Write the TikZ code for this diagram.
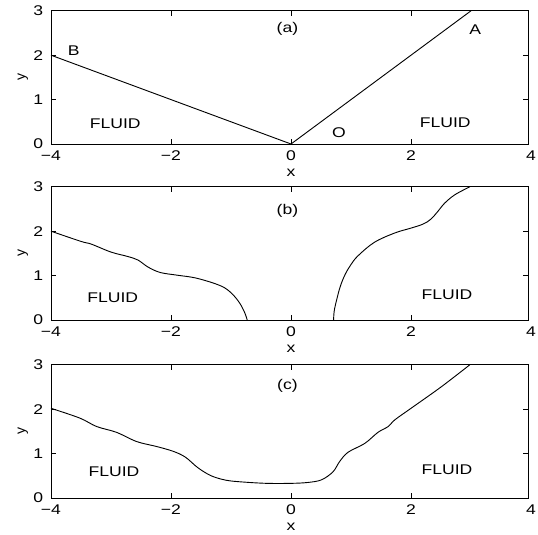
\documentclass[tikz,border=0pt]{standalone}
\usepackage{fontspec}
\setmainfont{Liberation Sans}
\usetikzlibrary{positioning}

\begin{document}
\begin{tikzpicture}[
    font=\fontsize{10}{12}\selectfont,
    x=15mm, y=11.1mm,
    frame/.style={line width=0.5pt},
    tick/.style={line width=0.4pt},
    curve/.style={line width=0.65pt, line join=round},
    txt/.style={inner sep=0.5pt, xscale=1.25},
  ]
  \useasboundingbox (0,0) rectangle (134.5mm,133.5mm);

  % axes of the three panels
  \foreach \oy/\tag/\ty in {97.5/a/2.6, 53.5/b/2.46, 9/c/2.53} {
    \begin{scope}[shift={(72.75mm,\oy mm)}]
      \draw[frame] (-4,0) rectangle (3.95,3);
      \foreach \t in {-2,0,2} {
        \draw[tick] (\t,0) -- ++(0,1.2mm);
        \draw[tick] (\t,3) -- ++(0,-1.2mm);
      }
      \foreach \t in {1,2} {
        \draw[tick] (-4,\t) -- ++(1.2mm,0);
        \draw[tick] (3.95,\t) -- ++(-1.2mm,0);
      }
      \foreach \t/\s [count=\i] in {-4/−4, -2/−2, 0/0, 2/2, 4/4}
        \node[txt, anchor=north, yshift=-1.5mm] (xt\tag\i) at (\t,0) {\s};
      \foreach \t in {0,...,3}
        \node[txt, anchor=east, xshift=-1.3mm] (yt\tag\t) at (-4,\t) {\t};
      \node[txt] (xl\tag) at (0,-0.65) {x};
      \node[inner sep=0.5pt, rotate=90] (yl\tag) at (-4.47,1.5) {y};
      \node[txt] (pt\tag) at (-0.06,\ty) {(\tag)};
    \end{scope}
  }

  % (a) initial wedge
  \begin{scope}[shift={(72.75mm,97.5mm)}]
    \draw[curve] (-4,2) -- (0,0) -- (3,3);
    \node[txt] (B) at (-3.62,2.1) {B};
    \node[txt] (A) at (3.07,2.57) {A};
    \node[txt] (O) at (0.8,0.25) {O};
    \node[txt] (fluidal) at (-2.93,0.45) {FLUID};
    \node[txt] (fluidar) at (2.57,0.47) {FLUID};
  \end{scope}

  % (b) two separated walls
  \begin{scope}[shift={(72.75mm,53.5mm)}]
    \draw[curve] plot[smooth, tension=0.55] coordinates {(-4,2) (-3.5,1.77)
      (-3.33,1.71) (-3.0,1.53) (-2.72,1.43) (-2.55,1.35) (-2.38,1.19)
      (-2.18,1.07) (-1.9,1.01) (-1.6,0.95) (-1.29,0.83) (-1.1,0.72)
      (-0.96,0.56) (-0.85,0.37) (-0.77,0.16) (-0.73,0)};
    \draw[curve] plot[smooth, tension=0.6] coordinates {(0.71,0) (0.72,0.2)
      (0.76,0.45) (0.82,0.75) (0.9,1.02) (1.0,1.25) (1.12,1.45) (1.39,1.75)
      (1.73,1.96) (2.0,2.07) (2.2,2.16) (2.33,2.27) (2.45,2.45) (2.56,2.63)
      (2.73,2.82) (2.98,3)};
    \node[txt] (fluidbl) at (-2.97,0.51) {FLUID};
    \node[txt] (fluidbr) at (2.6,0.58) {FLUID};
  \end{scope}

  % (c) one connected wall
  \begin{scope}[shift={(72.75mm,9mm)}]
    \draw[curve] plot[smooth, tension=0.55] coordinates {(-4,2.02) (-3.52,1.80)
      (-3.24,1.61) (-2.91,1.48) (-2.57,1.27) (-2.24,1.16) (-1.96,1.05)
      (-1.76,0.92) (-1.55,0.68) (-1.33,0.5) (-1.08,0.4) (-0.8,0.36)
      (-0.4,0.33) (0,0.33) (0.28,0.35) (0.51,0.41) (0.7,0.59) (0.81,0.82)
      (0.95,1.03) (1.23,1.23) (1.45,1.48) (1.62,1.61) (1.73,1.76) (2.0,2.02)
      (2.5,2.5) (2.98,3)};
    \node[txt] (fluidcl) at (-2.95,0.6) {FLUID};
    \node[txt] (fluidcr) at (2.6,0.63) {FLUID};
  \end{scope}
\end{tikzpicture}
\end{document}
